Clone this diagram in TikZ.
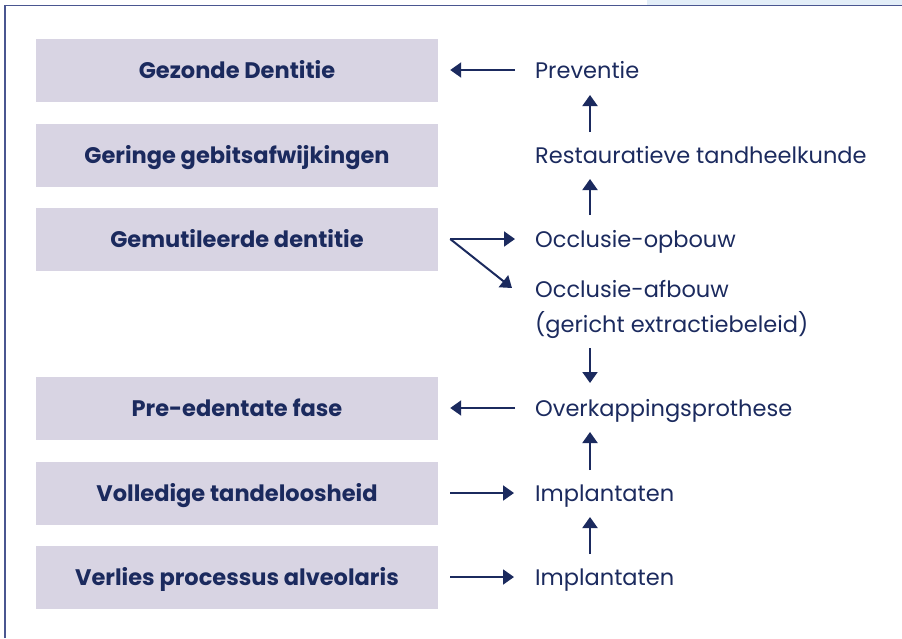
\documentclass[tikz,border=0pt]{standalone}
\usepackage{fontspec}
\setmainfont{Poppins}
\usetikzlibrary{arrows.meta,calc}
\definecolor{navy}{HTML}{1B2A5E}
\definecolor{boxfill}{HTML}{D8D4E3}
\definecolor{framec}{HTML}{4A5690}
\definecolor{strip}{HTML}{E3EEF8}
\begin{document}
\begin{tikzpicture}[x=1pt,y=-1pt,
  stage/.style={fill=boxfill,draw=none,minimum width=402pt,minimum height=63pt,inner sep=0pt,
    text height=16pt,text depth=0pt,
    font=\fontsize{22.5}{26}\selectfont\bfseries,text=navy},
  treat/.style={anchor=west,inner sep=0pt,font=\fontsize{22.5}{35}\selectfont,text=navy,align=left},
  oneline/.style={text height=16pt,text depth=0pt},
  arr/.style={draw=navy,line width=2pt,-{Triangle[length=11pt,width=15pt]}}]
\useasboundingbox (0,0) rectangle (902,638);
\fill[strip] (647,0) rectangle (902,5);
\draw[framec,line width=1.5pt] (5,638) -- (5,5.5) -- (902,5.5);
% stages
\node[stage] (b1) at (237,70) {Gezonde Dentitie};
\node[stage] (b2) at (237,155) {Geringe gebitsafwijkingen};
\node[stage] (b3) at (237,239) {Gemutileerde dentitie};
\node[stage] (b4) at (237,408) {Pre-edentate fase};
\node[stage] (b5) at (237,493) {Volledige tandeloosheid};
\node[stage] (b6) at (237,577) {Verlies processus alveolaris};
% treatments
\node[treat,oneline] (r1) at (535,70) {Preventie};
\node[treat,oneline] (r2) at (535,155) {Restauratieve tandheelkunde};
\node[treat,oneline] (r3) at (535,239) {Occlusie-opbouw};
\node[treat,anchor=north west] (r4) at (535,280) {Occlusie-afbouw\\(gericht extractiebeleid)};
\node[treat,oneline] (r5) at (535,408) {Overkappingsprothese};
\node[treat,oneline] (r6) at (535,493) {Implantaten};
\node[treat,oneline] (r7) at (535,577) {Implantaten};
\coordinate (col) at (590,0);
\coordinate (fork) at ($(b3.east)+(12,0)$);
% horizontal arrows
\draw[arr] ($(r1.west)+(-20,0)$) -- ($(b1.east)+(12,0)$);
\draw[arr] ($(r5.west)+(-20,0)$) -- ($(b4.east)+(12,0)$);
\draw[arr] ($(b5.east)+(12,0)$) -- ($(r6.west)+(-21,0)$);
\draw[arr] ($(b6.east)+(12,0)$) -- ($(r7.west)+(-21,0)$);
\draw[arr] (fork) -- ($(r3.west)+(-20,0)$);
\draw[arr] (fork) -- ($(r4.north west)+(-23,8)$);
% vertical arrows
\draw[arr] ($(r2 -| col)+(0,-23)$) -- ($(r1 -| col)+(0,25)$);
\draw[arr] ($(r3 -| col)+(0,-24)$) -- ($(r2 -| col)+(0,24)$);
\draw[arr] ($(r5 -| col)+(0,-60)$) -- ($(r5 -| col)+(0,-25)$);
\draw[arr] ($(r6 -| col)+(0,-23)$) -- ($(r5 -| col)+(0,24)$);
\draw[arr] ($(r7 -| col)+(0,-23)$) -- ($(r6 -| col)+(0,24)$);
\end{tikzpicture}
\end{document}
